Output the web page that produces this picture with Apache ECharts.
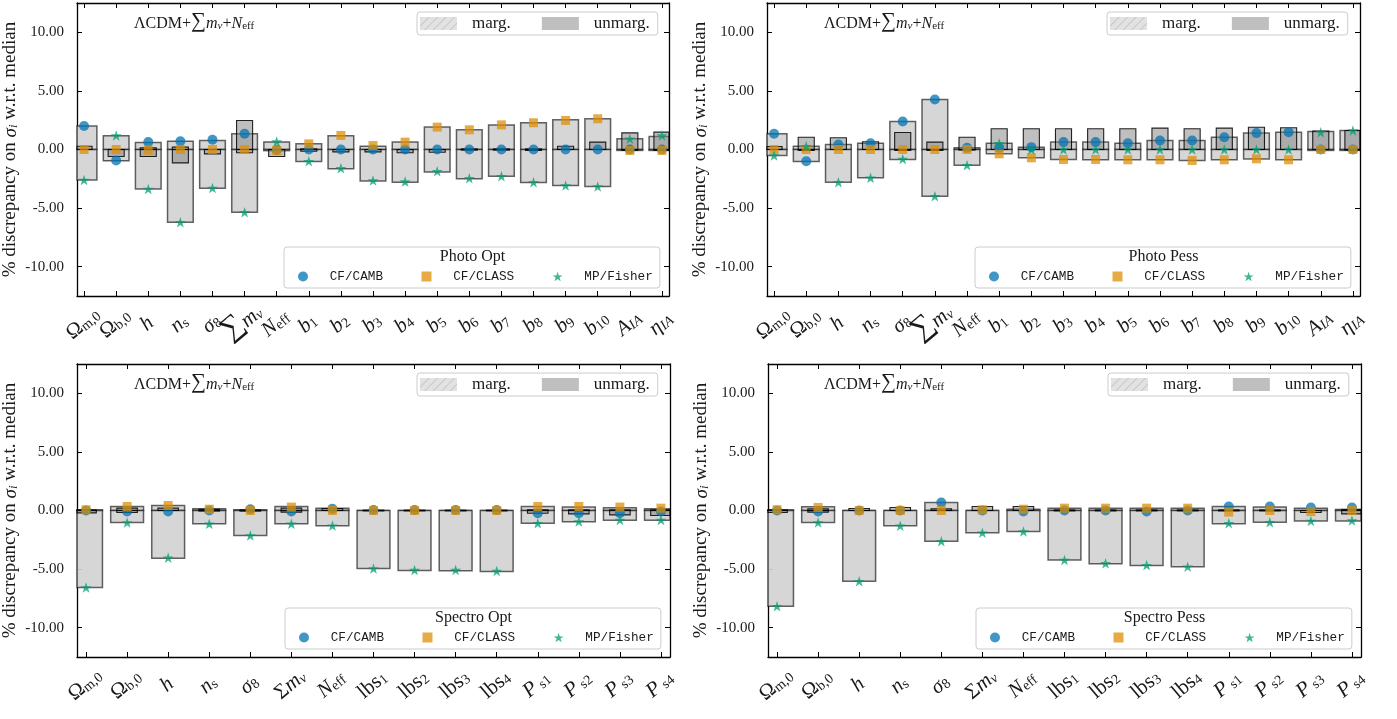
<!DOCTYPE html>
<html><head><meta charset="utf-8">
<script src="https://cdn.jsdelivr.net/npm/echarts@6/dist/echarts.min.js"></script>
<style>html,body{margin:0;padding:0;background:#fff}#c{width:1397px;height:719px}</style>
</head><body><div id="c"></div>
<script>
// ---------- categories / tick labels ----------
const photoLabels = ['{r|Ω}{s|m,0}','{r|Ω}{s|b,0}','{i|h}','{i|n}{s|s}','{i|σ}{s|8}','{big|∑}{i|m}{si|ν}','{i|N}{s|eff}',
  '{i|b}{s|1}','{i|b}{s|2}','{i|b}{s|3}','{i|b}{s|4}','{i|b}{s|5}','{i|b}{s|6}','{i|b}{s|7}','{i|b}{s|8}','{i|b}{s|9}','{i|b}{s|10}',
  '{i|A}{si|IA}','{i|η}{si|IA}'];
const spectroLabels = ['{r|Ω}{s|m,0}','{r|Ω}{s|b,0}','{i|h}','{i|n}{s|s}','{i|σ}{s|8}','{r|Σ}{i|m}{si|ν}','{i|N}{s|eff}',
  '{r|lbs}{s|1}','{r|lbs}{s|2}','{r|lbs}{s|3}','{r|lbs}{s|4}','{i|P}{s| s1}','{i|P}{s| s2}','{i|P}{s| s3}','{i|P}{s| s4}'];
const yTicks = [-10, -5, 0, 5, 10];
const panelNames = ['Photo Opt', 'Photo Pess', 'Spectro Opt', 'Spectro Pess'];
const modelText = '{r|ΛCDM+}{big|∑}{i|m}{si|ν}{r|+}{i|N}{s|eff}';

// ---------- Photo Opt ----------
const photoOptCAMB   = [2.0,-0.94,0.63,0.71,0.83,1.34,-0.05,0,0,0,0,0,0,0,0,0,0,0,0];
const photoOptCLASS  = [0,0,-0.05,0,0,0,-0.08,0.48,1.2,0.34,0.63,1.91,1.68,2.1,2.28,2.48,2.62,-0.08,-0.08];
const photoOptFisher = [-2.6,1.2,-3.36,-6.2,-3.28,-5.36,0.68,-1.0,-1.6,-2.65,-2.74,-1.85,-2.45,-2.28,-2.79,-3.08,-3.16,0.91,1.2];
const photoOptMargLo = [-2.6,-0.97,-3.36,-6.2,-3.3,-5.36,-0.1,-1.03,-1.65,-2.68,-2.79,-1.91,-2.5,-2.28,-2.82,-3.08,-3.16,-0.08,-0.08];
const photoOptMargHi = [2.0,1.17,0.6,0.71,0.77,1.34,0.65,0.48,1.17,0.28,0.63,1.91,1.68,2.1,2.28,2.54,2.62,0.91,1.1];
const photoOptUnmLo  = [0,-0.6,-0.6,-1.14,-0.37,-0.28,-0.6,-0.15,-0.2,-0.2,-0.28,-0.23,-0.05,-0.05,-0.08,0,0,-0.08,-0.08];
const photoOptUnmHi  = [0.28,0,0.14,0.2,0,2.48,0,0.05,0,0,0,0,0.05,0.05,0.05,0.28,0.63,1.42,1.48];

// ---------- Photo Pess ----------
const photoPessCAMB   = [1.34,-1.0,0.43,0.54,2.39,4.27,0.14,0.14,0.2,0.63,0.63,0.54,0.77,0.77,1.05,1.4,1.48,0,0];
const photoPessCLASS  = [0,0,0,0,0,0,0,-0.37,-0.71,-0.85,-0.85,-0.88,-0.88,-0.94,-0.88,-0.8,-0.88,0,0];
const photoPessFisher = [-0.51,0.28,-2.79,-2.42,-0.8,-3.99,-1.34,0.54,0,0,0,0,0,0,0,0,0,1.48,1.62];
const photoPessMargLo = [-0.51,-1.03,-2.79,-2.42,-0.85,-3.99,-1.34,-0.37,-0.71,-0.85,-0.88,-0.88,-0.88,-0.94,-0.88,-0.8,-0.88,-0.08,-0.08];
const photoPessMargHi = [1.34,0.28,0.43,0.54,2.39,4.27,0.14,0.54,0.2,0.63,0.63,0.54,0.77,0.77,1.05,1.4,1.48,1.54,1.62];
const photoPessUnmLo  = [0,-0.08,0,0,-0.08,-0.08,-0.05,0,0,0,0,0,0,0,0,0,0,0,-0.05];
const photoPessUnmHi  = [0.26,1.05,1.0,0.66,1.45,0.63,1.05,1.77,1.77,1.77,1.77,1.77,1.82,1.77,1.82,1.9,1.85,1.57,1.62];

// ---------- Spectro Opt ----------
const specOptCAMB   = [0,-0.09,-0.09,0,0.11,-0.09,0.14,0.05,0.05,0.05,0.05,-0.23,-0.23,-0.23,-0.09];
const specOptCLASS  = [0.06,0.34,0.43,0.11,0,0.29,0,0,0,0,0,0.34,0.34,0.29,0.2];
const specOptFisher = [-6.57,-1.03,-4.03,-1.14,-2.14,-1.14,-1.29,-4.94,-5.08,-5.08,-5.17,-1.08,-0.94,-0.8,-0.8];
const specOptMargLo = [-6.57,-1.03,-4.08,-1.14,-2.14,-1.14,-1.31,-4.94,-5.11,-5.14,-5.2,-1.08,-0.97,-0.83,-0.83];
const specOptMargHi = [0.06,0.34,0.43,0.14,0.06,0.34,0.2,0,0,0,0,0.34,0.29,0.23,0.14];
const specOptUnmLo  = [-0.2,-0.17,0,-0.05,-0.05,-0.14,0,-0.03,-0.03,-0.03,-0.03,-0.23,-0.29,-0.37,-0.43];
const specOptUnmHi  = [0.05,0.2,0.2,0.1,0.05,0.2,0.17,0.03,0.03,0.03,0.03,0.06,0.06,0.06,0.06];

// ---------- Spectro Pess ----------
const specPessCAMB   = [0,-0.09,0,0,0.69,0,-0.09,0,0,-0.09,0,0.34,0.34,0.26,0.26];
const specPessCLASS  = [0.06,0.26,0,0,0,0.06,0.11,0.2,0.2,0.2,0.2,-0.14,0,-0.09,0];
const specPessFisher = [-8.17,-1.03,-6.03,-1.31,-2.63,-1.89,-1.8,-4.23,-4.51,-4.66,-4.8,-1.08,-1.0,-0.89,-0.86];
const specPessMargLo = [-8.17,-1.03,-6.03,-1.31,-2.63,-1.89,-1.8,-4.23,-4.54,-4.69,-4.8,-1.14,-1.0,-0.89,-0.89];
const specPessMargHi = [0.06,0.31,0,0,0.69,0,0.11,0.2,0.2,0.2,0.2,0.34,0.29,0.2,0.09];
const specPessUnmLo  = [-0.17,-0.14,0,0,0,0,0,-0.03,-0.03,-0.03,-0.03,-0.03,-0.03,-0.17,-0.29];
const specPessUnmHi  = [0.06,0.14,0.17,0.26,0.14,0.34,0.34,0.05,0.05,0.05,0.05,0.05,0.05,0,0.09];

// ---------- layout (positions/styles kept separate from data) ----------
const panels = [
  {labels: photoLabels, camb: photoOptCAMB, cls: photoOptCLASS, fis: photoOptFisher, mLo: photoOptMargLo, mHi: photoOptMargHi, uLo: photoOptUnmLo, uHi: photoOptUnmHi,
   grid: {left: 77, top: 3, width: 592, height: 293}, legTop: [417, 12], legBot: [284, 247], anno: [134, 21]},
  {labels: photoLabels, camb: photoPessCAMB, cls: photoPessCLASS, fis: photoPessFisher, mLo: photoPessMargLo, mHi: photoPessMargHi, uLo: photoPessUnmLo, uHi: photoPessUnmHi,
   grid: {left: 767, top: 3, width: 593, height: 293}, legTop: [1107, 12], legBot: [975, 247], anno: [824, 21]},
  {labels: spectroLabels, camb: specOptCAMB, cls: specOptCLASS, fis: specOptFisher, mLo: specOptMargLo, mHi: specOptMargHi, uLo: specOptUnmLo, uHi: specOptUnmHi,
   grid: {left: 77, top: 364, width: 593, height: 293}, legTop: [417, 373], legBot: [285, 608], anno: [134, 382]},
  {labels: spectroLabels, camb: specPessCAMB, cls: specPessCLASS, fis: specPessFisher, mLo: specPessMargLo, mHi: specPessMargHi, uLo: specPessUnmLo, uHi: specPessUnmHi,
   grid: {left: 768, top: 364, width: 593, height: 293}, legTop: [1108, 373], legBot: [976, 608], anno: [824, 382]}
];

const SERIF = 'Liberation Serif';
const TXT = '#1a1a1a';
const starPath = 'path://M0,-100 L22.45,-30.9 L95.1,-30.9 L36.3,11.8 L58.8,80.9 L0,38.2 L-58.8,80.9 L-36.3,11.8 L-95.1,-30.9 L-22.45,-30.9 Z';
const colCAMB = '#0173b2', colCLASS = '#de8f05', colFisher = '#029e73';
const PAD = 0.22;

const labRich = {
  r:   {fontFamily: SERIF, fontSize: 21, color: TXT, lineHeight: 18, verticalAlign: 'bottom'},
  i:   {fontFamily: SERIF, fontStyle: 'italic', fontSize: 21, color: TXT, lineHeight: 18, verticalAlign: 'bottom'},
  s:   {fontFamily: SERIF, fontSize: 14, color: TXT, lineHeight: 11, verticalAlign: 'bottom'},
  si:  {fontFamily: SERIF, fontStyle: 'italic', fontSize: 14, color: TXT, lineHeight: 11, verticalAlign: 'bottom'},
  big: {fontFamily: SERIF, fontSize: 30, color: TXT, lineHeight: 18, verticalAlign: 'bottom'}
};
const annRich = {
  r:   {fontFamily: SERIF, fontSize: 16, fill: TXT, lineHeight: 19, verticalAlign: 'bottom'},
  i:   {fontFamily: SERIF, fontStyle: 'italic', fontSize: 16, fill: TXT, lineHeight: 19, verticalAlign: 'bottom'},
  s:   {fontFamily: SERIF, fontSize: 11, fill: TXT, lineHeight: 11.5, verticalAlign: 'bottom'},
  si:  {fontFamily: SERIF, fontStyle: 'italic', fontSize: 11, fill: TXT, lineHeight: 11.5, verticalAlign: 'bottom'},
  big: {fontFamily: SERIF, fontSize: 21, fill: TXT, lineHeight: 21, verticalAlign: 'bottom'}
};

function barRenderer(wUnits, fill, stroke, lw) {
  return function (params, api) {
    const x = api.value(0), lo = api.value(1), hi = api.value(2);
    const w = api.size([wUnits, 0])[0];
    const p0 = api.coord([x, 0]), pH = api.coord([x, hi]), pL = api.coord([x, lo]);
    const cs = params.coordSys;
    const children = [];
    const mk = (y1, y2) => {
      const r = echarts.graphic.clipRectByRect({x: p0[0] - w / 2, y: y1, width: w, height: y2 - y1}, cs);
      if (r) children.push({type: 'rect', shape: r, style: {fill: fill, stroke: stroke, lineWidth: lw}});
    };
    mk(pH[1], p0[1]);
    mk(p0[1], pL[1]);
    return {type: 'group', children: children};
  };
}

const xAxes = [], yAxes = [], grids = [], series = [], legends = [], graphics = [];
panels.forEach((p, k) => {
  const n = p.labels.length;
  const idx = p.labels.map((_, i) => i);
  const xmin = -PAD, xmax = n - 1 + PAD;
  grids.push(Object.assign({containLabel: false}, p.grid));
  const axLine = {show: true, onZero: false, lineStyle: {color: '#000', width: 1.3}};
  const tick = {show: true, inside: true, length: 5, customValues: idx, lineStyle: {color: '#000', width: 1}};
  // bottom frame axis (line + ticks)
  xAxes.push({gridIndex: k, type: 'value', position: 'bottom', min: xmin, max: xmax,
    axisLine: axLine, axisTick: tick, splitLine: {show: false}, axisLabel: {show: false}});
  // top frame axis
  xAxes.push({gridIndex: k, type: 'value', position: 'top', min: xmin, max: xmax,
    axisLine: axLine, axisTick: tick, splitLine: {show: false}, axisLabel: {show: false}});
  // bottom label axis (labels only); empty end labels absorb the min/max label handling
  xAxes.push({gridIndex: k, type: 'value', position: 'bottom', min: xmin, max: xmax,
    axisLine: {show: false, onZero: false}, axisTick: {show: false}, splitLine: {show: false},
    axisLabel: {show: true, customValues: [xmin].concat(idx, [xmax]),
      formatter: v => (Number.isInteger(v) ? p.labels[v] : ''), rotate: 40,
      showMinLabel: false, showMaxLabel: false, hideOverlap: false,
      align: 'center', verticalAlign: 'middle', margin: 29, rich: labRich}});
  const ytick = {show: true, inside: true, length: 5, customValues: yTicks, lineStyle: {color: '#000', width: 1}};
  yAxes.push({gridIndex: k, type: 'value', position: 'left', min: -12.5, max: 12.5,
    axisLine: axLine, axisTick: ytick, splitLine: {show: false},
    axisLabel: {show: true, customValues: yTicks, formatter: v => v.toFixed(2), margin: 13,
      showMinLabel: true, showMaxLabel: true, fontFamily: SERIF, fontSize: 15, color: TXT},
    name: '% discrepancy on {i|σ}{s|i} w.r.t. median', nameLocation: 'middle', nameGap: 57, nameRotate: 90,
    nameTextStyle: {fontFamily: SERIF, fontSize: 19, color: TXT,
      rich: {i: {fontFamily: SERIF, fontStyle: 'italic', fontSize: 19, color: TXT},
             s: {fontFamily: SERIF, fontStyle: 'italic', fontSize: 13, color: TXT, verticalAlign: 'bottom', lineHeight: 13}}}});
  yAxes.push({gridIndex: k, type: 'value', position: 'right', min: -12.5, max: 12.5,
    axisLine: axLine, axisTick: ytick, splitLine: {show: false}, axisLabel: {show: false}});

  const xa = 3 * k, ya = 2 * k;
  series.push({type: 'custom', name: 'marg.', xAxisIndex: xa, yAxisIndex: ya, z: 2,
    renderItem: barRenderer(0.8, 'rgba(211,211,211,0.92)', 'rgba(0,0,0,0.6)', 1.5),
    encode: {x: 0, y: [1, 2]}, itemStyle: {color: '#d6d6d6'},
    data: idx.map(i => [i, p.mLo[i], p.mHi[i]])});
  series.push({type: 'custom', name: 'unmarg.', xAxisIndex: xa, yAxisIndex: ya, z: 3,
    renderItem: barRenderer(0.5, 'rgba(128,128,128,0.5)', 'rgba(0,0,0,0.85)', 1.1),
    encode: {x: 0, y: [1, 2]}, itemStyle: {color: '#bfbfbf'},
    data: idx.map(i => [i, p.uLo[i], p.uHi[i]])});
  series.push({type: 'scatter', name: 'CF/CAMB', xAxisIndex: xa, yAxisIndex: ya, z: 4,
    symbol: 'circle', symbolSize: 10, itemStyle: {color: colCAMB, opacity: 0.75},
    data: idx.map(i => [i, p.camb[i]])});
  series.push({type: 'scatter', name: 'CF/CLASS', xAxisIndex: xa, yAxisIndex: ya, z: 5,
    symbol: 'rect', symbolSize: 9, itemStyle: {color: colCLASS, opacity: 0.75},
    data: idx.map(i => [i, p.cls[i]])});
  series.push({type: 'scatter', name: 'MP/Fisher', xAxisIndex: xa, yAxisIndex: ya, z: 6,
    symbol: starPath, symbolSize: [11, 10.5], itemStyle: {color: colFisher, opacity: 0.75},
    data: idx.map(i => [i, p.fis[i]])});

  legends.push({left: p.legTop[0], top: p.legTop[1], orient: 'horizontal',
    data: [
      {name: 'marg.', icon: 'rect', itemStyle: {color: 'rgba(211,211,211,0.65)', borderWidth: 0,
        decal: {symbol: 'rect', symbolSize: 1, dashArrayX: [1, 0], dashArrayY: [1, 5], rotation: -Math.PI / 4, color: 'rgba(150,150,150,0.35)'}}},
      {name: 'unmarg.', icon: 'rect', itemStyle: {color: 'rgba(128,128,128,0.5)', borderWidth: 0}}
    ],
    itemWidth: 37, itemHeight: 13, itemGap: 31, padding: [3, 8, 3, 3],
    borderColor: '#cccccc', borderWidth: 1, borderRadius: 3, backgroundColor: 'rgba(255,255,255,0.8)',
    textStyle: {fontFamily: SERIF, fontSize: 17, color: TXT, padding: [0, 0, 0, 10]}});
  legends.push({left: p.legBot[0], top: p.legBot[1], orient: 'horizontal',
    data: [
      {name: 'CF/CAMB', icon: 'circle'},
      {name: 'CF/CLASS', icon: 'rect'},
      {name: 'MP/Fisher', icon: starPath}
    ],
    itemWidth: 10, itemHeight: 10, itemGap: 38.5, padding: [23, 7, 5, 14],
    borderColor: '#cccccc', borderWidth: 1, borderRadius: 3, backgroundColor: 'rgba(255,255,255,0.8)',
    textStyle: {fontFamily: 'Liberation Mono', fontSize: 12.7, color: TXT, padding: [0, 0, 0, 16.7]}});

  graphics.push({type: 'text', x: p.anno[0], y: p.anno[1], z: 100,
    style: {text: modelText, rich: annRich, verticalAlign: 'middle', align: 'left'}});
  const lx = p.legBot[0] + 188.5, ly = p.legBot[1] + 10;
  graphics.push({type: 'text', x: lx, y: ly, z: 100,
    style: {text: panelNames[k], fill: TXT, fontFamily: SERIF, fontSize: 16, align: 'center', verticalAlign: 'middle'}});
});

const chart = echarts.init(document.getElementById('c'), null, {renderer: 'canvas', width: 1397, height: 719});
chart.setOption({
  animation: false,
  backgroundColor: '#ffffff',
  grid: grids, xAxis: xAxes, yAxis: yAxes, series: series, legend: legends, graphic: graphics
});
</script>
</body></html>
